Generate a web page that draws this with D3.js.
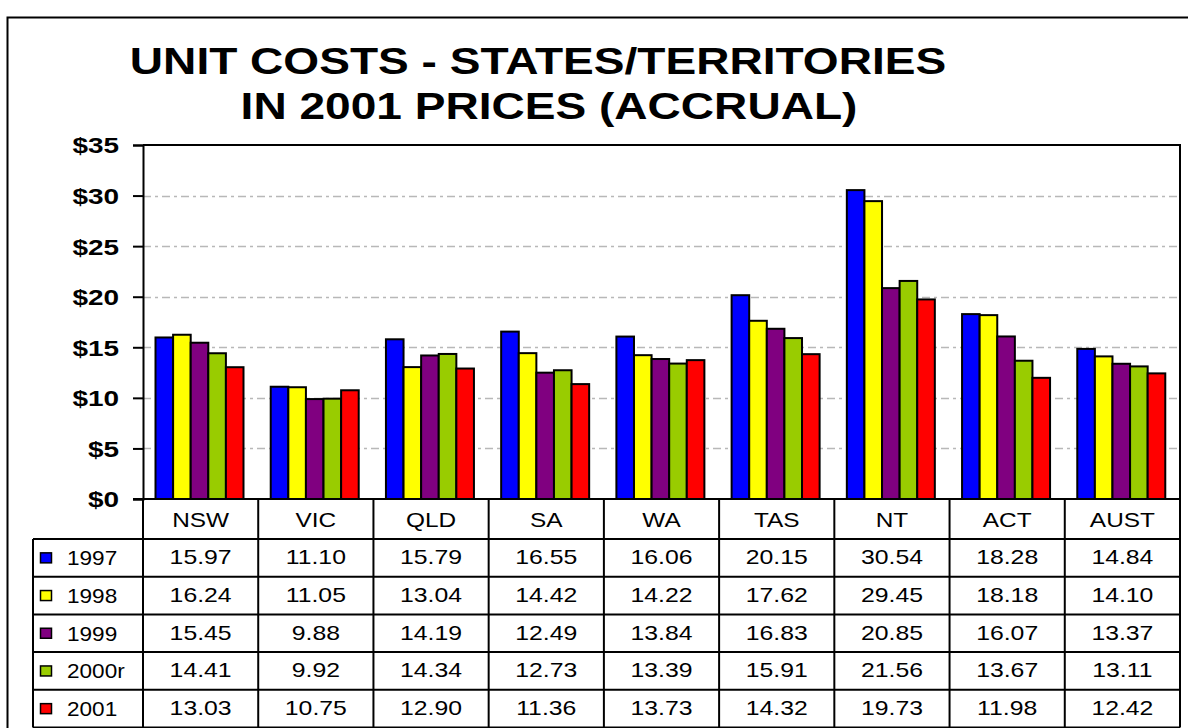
<!DOCTYPE html>
<html>
<head>
<meta charset="utf-8">
<script src="https://cdn.jsdelivr.net/npm/d3@7/dist/d3.min.js"></script>
<style>
  html, body { margin: 0; padding: 0; background: #fff; }
  svg { display: block; font-family: Arial, "Liberation Sans", sans-serif; }
</style>
</head>
<body>
<svg id="chart" width="1188" height="728"></svg>
<script>
// Unit costs by jurisdiction, in 2001 prices (accrual basis)
const categories = ["NSW", "VIC", "QLD", "SA", "WA", "TAS", "NT", "ACT", "AUST"];
const seriesNames = ["1997", "1998", "1999", "2000r", "2001"];
const seriesColors = ["#0000FF", "#FFFF00", "#800080", "#99CC00", "#FF0000"];
const values1997 = [15.97, 11.10, 15.79, 16.55, 16.06, 20.15, 30.54, 18.28, 14.84];
const values1998 = [16.24, 11.05, 13.04, 14.42, 14.22, 17.62, 29.45, 18.18, 14.10];
const values1999 = [15.45, 9.88, 14.19, 12.49, 13.84, 16.83, 20.85, 16.07, 13.37];
const values2000r = [14.41, 9.92, 14.34, 12.73, 13.39, 15.91, 21.56, 13.67, 13.11];
const values2001 = [13.03, 10.75, 12.90, 11.36, 13.73, 14.32, 19.73, 11.98, 12.42];
const yTicks = [0, 5, 10, 15, 20, 25, 30, 35];
const titleLines = ["UNIT COSTS - STATES/TERRITORIES", "IN 2001 PRICES (ACCRUAL)"];

const seriesValues = [values1997, values1998, values1999, values2000r, values2001];

const svg = d3.select("#chart");
const SX = 1.27; // horizontal text stretch

function stretchedText(parent, x, y, str, opts) {
  return parent.append("text")
    .attr("transform", `translate(${x},${y}) scale(${opts.sx || SX},1)`)
    .attr("text-anchor", opts.anchor || "middle")
    .attr("font-size", opts.size)
    .attr("font-weight", opts.weight || "normal")
    .attr("fill", "#000")
    .text(str);
}

// outer frame
svg.append("rect")
  .attr("x", 7.5).attr("y", 17.5)
  .attr("width", 1200).attr("height", 720)
  .attr("fill", "none").attr("stroke", "#000").attr("stroke-width", 2);

// title
stretchedText(svg, 538, 74, titleLines[0], { size: 36, weight: "bold", sx: 1.28 });
stretchedText(svg, 549, 119, titleLines[1], { size: 36, weight: "bold", sx: 1.28 });

const plot = { left: 143, right: 1180, top: 145, bottom: 499 };

const x = d3.scaleBand().domain(categories).range([plot.left, plot.right]).padding(0);
const xs = d3.scaleBand().domain(seriesNames).range([12.5, 100.5]).padding(0);
const y = d3.scaleLinear().domain([0, 35]).range([plot.bottom, plot.top]);

// gridlines
svg.append("g").selectAll("line")
  .data(yTicks.filter(t => t > 0 && t < 35))
  .join("line")
  .attr("x1", plot.left).attr("x2", plot.right)
  .attr("y1", d => Math.round(y(d)) + 0.5).attr("y2", d => Math.round(y(d)) + 0.5)
  .attr("stroke", "#b8b8b8").attr("stroke-width", 1.5)
  .attr("stroke-dasharray", "8,4,3,4");

// y axis
const yAxis = d3.axisLeft(y).tickValues(yTicks).tickSize(10).tickPadding(14)
  .tickFormat(d => "$" + d);
const gy = svg.append("g").attr("transform", `translate(${plot.left},0)`).call(yAxis);
gy.select(".domain").attr("stroke", "#000").attr("stroke-width", 2);
gy.selectAll(".tick line").attr("stroke", "#000").attr("stroke-width", 2);
gy.selectAll(".tick text")
  .attr("font-size", 22).attr("font-weight", "bold").attr("fill", "#000")
  .attr("font-family", "Arial, 'Liberation Sans', sans-serif")
  .attr("dy", "0.36em")
  .each(function() {
    const t = d3.select(this);
    const xx = +t.attr("x");
    t.attr("x", null).attr("transform", `translate(${xx},0) scale(${SX},1)`);
  });

// bars
const groups = svg.append("g").selectAll("g")
  .data(categories)
  .join("g")
  .attr("transform", d => `translate(${x(d)},0)`);

groups.selectAll("rect")
  .data((c, ci) => seriesNames.map((s, si) => ({ s, si, v: seriesValues[si][ci] })))
  .join("rect")
  .attr("x", d => xs(d.s))
  .attr("width", xs.bandwidth())
  .attr("y", d => y(d.v))
  .attr("height", d => y(0) - y(d.v))
  .attr("fill", d => seriesColors[d.si])
  .attr("stroke", "#000").attr("stroke-width", 2);

// plot border (top, right)
svg.append("path")
  .attr("d", `M${plot.left},${plot.top}H${plot.right}V${plot.bottom}`)
  .attr("fill", "none").attr("stroke", "#000").attr("stroke-width", 2);
// zero line
svg.append("line")
  .attr("x1", plot.left - 10).attr("x2", plot.right)
  .attr("y1", plot.bottom).attr("y2", plot.bottom)
  .attr("stroke", "#000").attr("stroke-width", 2);

// data table
const table = svg.append("g");
const headerBottom = 539;
const rowH = 37.7;
const tableLeft = 33;
const tableBottom = headerBottom + rowH * seriesNames.length;
const lineAttrs = sel => sel.attr("stroke", "#000").attr("stroke-width", 2);
const TABLE_FONT = 20;

// column separators
const colEdges = categories.map(c => x(c)).concat([plot.right]);
colEdges.forEach(cx => {
  table.append("line").attr("x1", cx).attr("x2", cx)
    .attr("y1", plot.bottom).attr("y2", tableBottom).call(lineAttrs);
});
// left edge of legend column
table.append("line").attr("x1", tableLeft).attr("x2", tableLeft)
  .attr("y1", headerBottom).attr("y2", tableBottom).call(lineAttrs);
// horizontal row lines
for (let i = 0; i <= seriesNames.length; i++) {
  const yy = headerBottom + rowH * i;
  table.append("line").attr("x1", tableLeft).attr("x2", plot.right)
    .attr("y1", yy).attr("y2", yy).call(lineAttrs);
}

// category header
categories.forEach(c => {
  stretchedText(table, x(c) + x.bandwidth() / 2, plot.bottom + 28, c, { size: TABLE_FONT, sx: 1.22 });
});

// rows: legend key + values
seriesNames.forEach((s, si) => {
  const top = headerBottom + rowH * si;
  const mid = top + rowH / 2;
  table.append("rect")
    .attr("x", 40.5).attr("y", mid - 5)
    .attr("width", 11).attr("height", 10)
    .attr("fill", seriesColors[si]).attr("stroke", "#000").attr("stroke-width", 1.5);
  stretchedText(table, 67, mid + 7.5, s, { size: TABLE_FONT, anchor: "start", sx: 1.13 });
  categories.forEach((c, ci) => {
    stretchedText(table, x(c) + x.bandwidth() / 2, mid + 6.5,
      d3.format(".2f")(seriesValues[si][ci]), { size: TABLE_FONT, sx: 1.24 });
  });
});
</script>
</body>
</html>
